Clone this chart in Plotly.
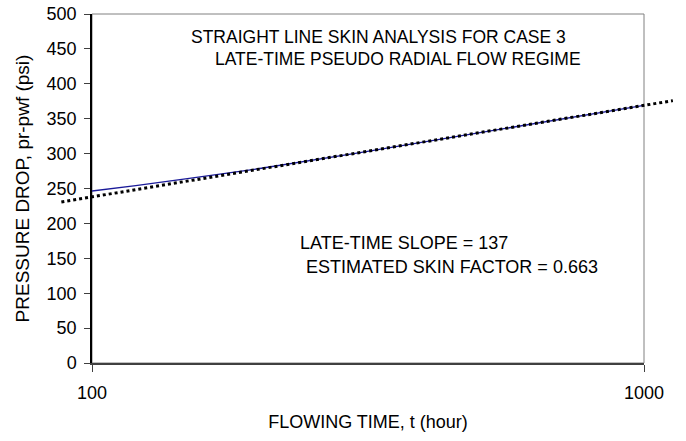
import plotly.graph_objects as go

# ---- data ----
time_hr = [100, 120, 150, 200, 300, 400, 500, 600, 700, 800, 900, 1000]
pressure_drop = [246.4, 254.0, 264.5, 278.3, 300.4, 316.8, 329.5, 339.8, 348.6, 356.2, 362.9, 369.0]
trend_time = [88, 1128]
trend_dp = [230.7, 375.9]

x_ticks = [100, 1000]
x_ticktext = ["100", "1000"]
y_ticks = [0, 50, 100, 150, 200, 250, 300, 350, 400, 450, 500]

# ---- layout geometry (pixels) ----
W, H = 686, 441
L, R, T, B = 40, 680, 14, 363          # full (extended) plotting region
AX_L, AX_R = 92, 644                    # visible axes box

def fx(px):
    return (px - L) / (R - L)

def fy(py):
    return (B - py) / (B - T)

dom = [fx(AX_L), fx(AX_R)]
decade_px = AX_R - AX_L
x2_range = [2 - (AX_L - L) / decade_px, 3 + (R - AX_R) / decade_px]

FONT = "Liberation Sans, Arial, sans-serif"

fig = go.Figure()
fig.add_trace(go.Scatter(
    x=time_hr, y=pressure_drop, mode="lines",
    line=dict(color="#1a1a99", width=1.3),
    xaxis="x", yaxis="y", showlegend=False, hoverinfo="skip"))
fig.add_trace(go.Scatter(
    x=trend_time, y=trend_dp, mode="lines",
    line=dict(color="black", width=3, dash="dot"),
    xaxis="x2", yaxis="y2", showlegend=False, hoverinfo="skip"))

fig.update_layout(
    width=W, height=H,
    margin=dict(l=L, r=W - R, t=T, b=H - B),
    paper_bgcolor="white", plot_bgcolor="rgba(0,0,0,0)",
    font=dict(family=FONT, size=18, color="black"),
    xaxis=dict(
        type="log", range=[2, 3], domain=dom, automargin=False,
        tickvals=x_ticks, ticktext=x_ticktext,
        ticks="outside", ticklen=7, tickcolor="#404040", tickwidth=1,
        showline=True, linecolor="#404040", linewidth=2,
        showgrid=False, zeroline=False,
        ticklabelstandoff=5,
        tickfont=dict(size=18),
        title=dict(text="FLOWING TIME, t (hour)", font=dict(size=18), standoff=14),
    ),
    yaxis=dict(
        range=[0, 500], domain=[0, 1], automargin=False,
        tickvals=y_ticks,
        ticks="outside", ticklen=6, tickcolor="#404040", tickwidth=1,
        showline=True, linecolor="black", linewidth=1.5,
        showgrid=False, zeroline=False,
        ticklabelstandoff=4,
        tickfont=dict(size=18),
        title=dict(text="PRESSURE DROP, pr-pwf (psi)", font=dict(size=19), standoff=12),
    ),
    xaxis2=dict(type="log", range=x2_range, domain=[0, 1], anchor="y2",
                visible=False, showgrid=False, zeroline=False, automargin=False),
    yaxis2=dict(range=[0, 500], domain=[0, 1], anchor="x2",
                visible=False, showgrid=False, zeroline=False, automargin=False),
    shapes=[dict(type="rect", xref="x domain", yref="y domain",
                 x0=0, x1=1, y0=0, y1=1,
                 line=dict(color="#808080", width=1), layer="below")],
)

ann = [
    ("STRAIGHT LINE SKIN ANALYSIS FOR CASE 3", 189, 37, 17.5),
    ("LATE-TIME PSEUDO RADIAL FLOW REGIME", 213, 59, 17.5),
    ("LATE-TIME SLOPE = 137", 298, 243, 18),
    ("ESTIMATED SKIN FACTOR = 0.663", 304, 267, 18),
]
for text, px, py, size in ann:
    fig.add_annotation(text=text, xref="paper", yref="paper",
                       x=fx(px), y=fy(py), xanchor="left", yanchor="middle",
                       showarrow=False, font=dict(size=size, color="black"))

fig.write_html("out.html")
